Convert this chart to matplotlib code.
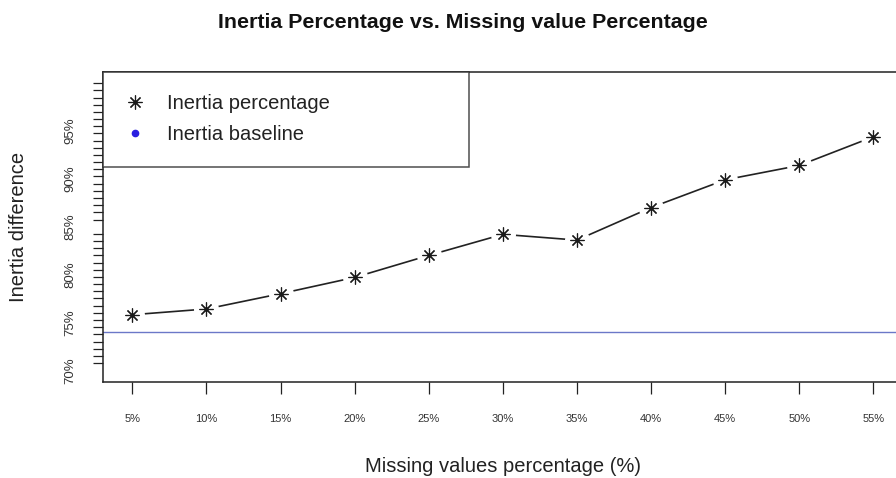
import matplotlib
matplotlib.use("Agg")
import matplotlib.pyplot as plt
import numpy as np

# ---------------------------------------------------------
# Data
# ---------------------------------------------------------
missing_pct = [5, 10, 15, 20, 25, 30, 35, 40, 45, 50, 55]
inertia_pct = [75.8, 76.4, 78.0, 79.7, 82.0, 84.2, 83.6, 87.0, 89.9, 91.4, 94.4]
inertia_baseline = 74.0

y_label_values = [70, 75, 80, 85, 90, 95]
x_tick_labels = [f"{v}%" for v in missing_pct]

# ---------------------------------------------------------
# Style
# ---------------------------------------------------------
plt.rcParams["font.family"] = ["Liberation Sans", "DejaVu Sans"]

W, H = 896, 478
fig = plt.figure(figsize=(W / 100, H / 100), dpi=100)

# axes box in pixels (right edge goes a bit past the figure, like the source)
left, right, top, bottom = 102.7, 903.0, 71.7, 381.7
ax = fig.add_axes([left / W, 1 - bottom / H, (right - left) / W, (bottom - top) / H])

# line with gaps around the points (R type="b" look)
ax.plot(missing_pct, inertia_pct, color="#222222", linewidth=1.2, zorder=2)
ax.plot(missing_pct, inertia_pct, linestyle="none", marker="o", markersize=18,
        markerfacecolor="white", markeredgewidth=0, zorder=3)
ax.plot(missing_pct, inertia_pct, linestyle="none", marker=(8, 2, 0), markersize=10,
        markeredgewidth=0.85, markeredgecolor="#1a1a1a", zorder=4,
        label="Inertia percentage")

ax.axhline(inertia_baseline, color="#6b78c8", linewidth=1.0, zorder=1)
# legend handle for baseline
ax.plot([], [], linestyle="none", marker="o", markersize=4.5, color="#2a1fe0",
        label="Inertia baseline")

# ---------------------------------------------------------
# Axes formatting
# ---------------------------------------------------------
ax.set_xlim(3, 57)
ax.set_ylim(68.8, 101.2)

ax.set_xticks(missing_pct)
ax.set_xticklabels(x_tick_labels, fontsize=8, color="#333333")
ax.tick_params(axis="x", direction="out", length=8.5, width=0.9, pad=15,
               color="#222222")

ax.set_yticks(y_label_values)
ax.set_yticklabels([f"{v}%" for v in y_label_values], rotation=90,
                   va="center", fontsize=9.5, color="#333333")
ax.set_yticks(np.arange(70, 100.01, 0.75), minor=True)
ax.tick_params(axis="y", which="major", length=0, pad=19)
ax.tick_params(axis="y", which="minor", direction="out", length=7.2, width=0.9,
               color="#222222")

for spine in ax.spines.values():
    spine.set_linewidth(1.1)
    spine.set_color("#222222")

leg = ax.legend(loc="upper left", bbox_to_anchor=(0, 0, 0.458, 1), mode="expand",
                borderaxespad=0, frameon=True, fancybox=False, fontsize=14.5,
                handlelength=1.0, handletextpad=1.09, borderpad=1.12,
                labelspacing=0.6)
leg.get_frame().set_edgecolor("#222222")
leg.get_frame().set_linewidth(1.1)
for txt in leg.get_texts():
    txt.set_color("#222222")

# ---------------------------------------------------------
# Titles
# ---------------------------------------------------------
fig.text(463 / W, 1 - 22.5 / H, "Inertia Percentage vs. Missing value Percentage",
         ha="center", va="center", fontsize=15.4, fontweight="bold", color="#111111")
fig.text(502.8 / W, 1 - 466.7 / H, "Missing values percentage (%)",
         ha="center", va="center", fontsize=14.5, color="#222222")
fig.text(18.3 / W, 1 - 226.7 / H, "Inertia difference", rotation=90,
         ha="center", va="center", fontsize=14.5, color="#222222")

fig.savefig("out.png", dpi=100)
